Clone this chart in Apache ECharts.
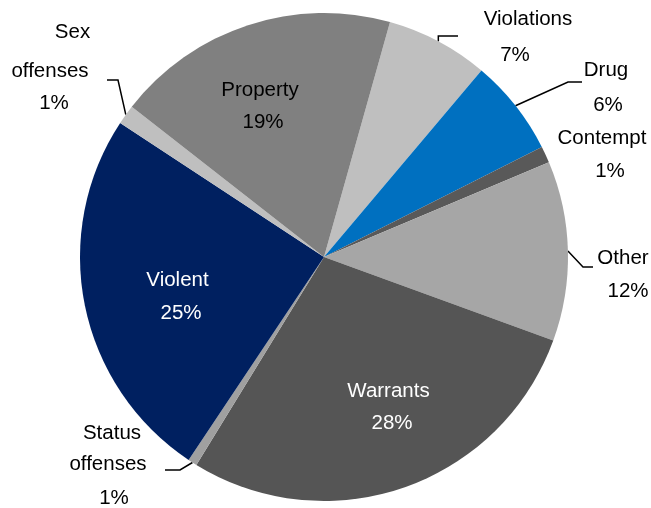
<!DOCTYPE html>
<html>
<head>
<meta charset="utf-8">
<script src="https://cdn.jsdelivr.net/npm/echarts@6/dist/echarts.min.js"></script>
<style>
  html, body { margin: 0; padding: 0; background: #ffffff; }
  #chart { width: 651px; height: 508px; }
</style>
</head>
<body>
<div id="chart"></div>
<script>
// Share of cases by offense type (percent), clockwise from Violations
var categories = ['Violations', 'Drug', 'Contempt', 'Other', 'Warrants',
                  'Status offenses', 'Violent', 'Sex offenses', 'Property'];
var shares = [6.8, 6.4, 1.1, 11.9, 28.2, 0.6, 24.9, 1.3, 18.8];

// Slice and text colours
var sliceColors = ['#bfbfbf', '#0070c0', '#595959', '#a6a6a6', '#555555',
                   '#a0a0a0', '#002060', '#bfbfbf', '#808080'];
var textColors = ['#000', '#000', '#000', '#000', '#fff', '#000', '#fff', '#000', '#000'];
var insideLabel = [false, false, false, false, true, false, true, false, true];

// Label placement: anchor x, top y, per-line horizontal nudge and line height,
// plus the bend/end points of the leader line (null x = straight up/down from the slice)
var labelBoxes = [
  { x: 515,   top: 1,     dx: [13, 0],       lh: [36, 36],     leader: [[null, 36], [458, 36]] },
  { x: 607,   top: 52.8,  dx: [-1, 1],       lh: [35, 35],     leader: [[568, 82], [582, 82]] },
  { x: 606,   top: 121.5, dx: [-4, 4],       lh: [33, 33],     leader: null },
  { x: 625.5, top: 241.5, dx: [-2.5, 2.5],   lh: [33, 33],     leader: [[583, 267], [593, 267]] },
  { x: 390,   top: 375,   dx: [-1.5, 2],     lh: [32, 32],     leader: null },
  { x: 111,   top: 417.5, dx: [1, -3, 3],    lh: [31, 31, 37], leader: [[180, 470], [165, 470]] },
  { x: 179,   top: 263.5, dx: [-1.5, 2],     lh: [33, 33],     leader: null },
  { x: 54,    top: 9,     dx: [18.5, -4, 0], lh: [46, 32, 32], leader: [[118, 80], [107, 80]] },
  { x: 261.5, top: 74.7,  dx: [-1.5, 1.5],   lh: [32, 32],     leader: null }
];

var FONT = "'Liberation Sans', Arial, sans-serif";
var FONT_SIZE = 20.5;

function richFor(i) {
  var box = labelBoxes[i];
  var rich = {};
  for (var k = 0; k < box.lh.length; k++) {
    var d = box.dx[k];
    rich['l' + k] = {
      fontFamily: FONT,
      fontSize: FONT_SIZE,
      color: textColors[i],
      align: 'center',
      lineHeight: box.lh[k],
      padding: [0, d < 0 ? -2 * d : 0, 0, d > 0 ? 2 * d : 0]
    };
  }
  return rich;
}

var seriesData = categories.map(function (name, i) {
  return {
    name: name,
    value: shares[i],
    itemStyle: { color: sliceColors[i] },
    label: {
      position: insideLabel[i] ? 'inside' : 'outside',
      rich: richFor(i)
    },
    labelLine: { show: !!labelBoxes[i].leader }
  };
});

var chart = echarts.init(document.getElementById('chart'), null, { renderer: 'canvas' });

chart.setOption({
  animation: false,
  backgroundColor: '#ffffff',
  series: [{
    type: 'pie',
    center: [324, 257],
    radius: 244,
    startAngle: 74.3,
    clockwise: true,
    percentPrecision: 0,
    avoidLabelOverlap: false,
    minShowLabelAngle: 0,
    itemStyle: { borderWidth: 0 },
    emphasis: { disabled: true },
    label: {
      show: true,
      align: 'center',
      fontFamily: FONT,
      fontSize: FONT_SIZE,
      formatter: function (p) {
        var lines = p.name.split(' ');
        lines.push(p.percent + '%');
        return lines.map(function (t, k) { return '{l' + k + '|' + t + '}'; }).join('\n');
      }
    },
    labelLine: {
      show: true,
      smooth: false,
      lineStyle: { color: '#000000', width: 1.5 }
    },
    labelLayout: function (params) {
      var box = labelBoxes[params.dataIndex];
      var out = { x: box.x, y: box.top, align: 'center', verticalAlign: 'top' };
      if (box.leader && params.labelLinePoints) {
        var p0 = params.labelLinePoints[0];
        var pts = [[p0[0], p0[1]]];
        box.leader.forEach(function (pt) {
          pts.push([pt[0] === null ? p0[0] : pt[0], pt[1]]);
        });
        out.labelLinePoints = pts;
      }
      return out;
    },
    data: seriesData
  }]
});
</script>
</body>
</html>
